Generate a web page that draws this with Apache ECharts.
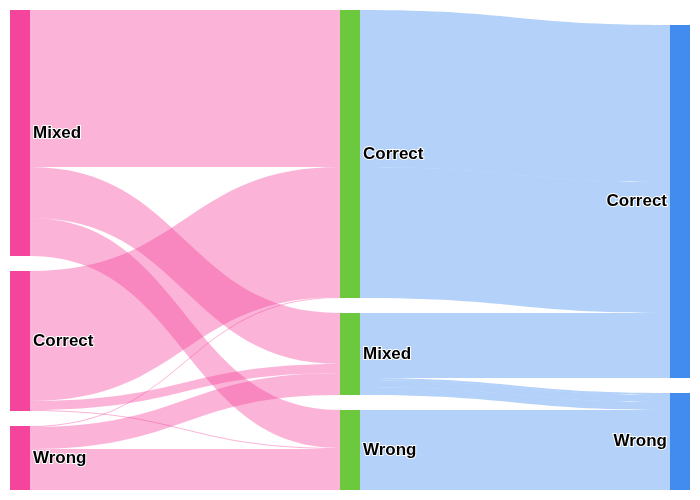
<!DOCTYPE html>
<html>
<head>
<meta charset="utf-8">
<script src="https://cdn.jsdelivr.net/npm/echarts@6/dist/echarts.min.js"></script>
<style>
  html, body { margin: 0; padding: 0; background: #fff; }
  #main { width: 700px; height: 500px; }
</style>
</head>
<body>
<div id="main"></div>
<script>
var chart = echarts.init(document.getElementById('main'));

// columns of the flow (round 1 -> round 2 -> round 3)
var round1 = ['Mixed', 'Correct', 'Wrong'];
var round2 = ['Correct', 'Mixed', 'Wrong'];
var round3 = ['Correct', 'Wrong'];

// [from, to, value]
var links12 = [
  ['Mixed', 'Correct', 157], ['Mixed', 'Mixed', 51], ['Mixed', 'Wrong', 38],
  ['Correct', 'Correct', 130], ['Correct', 'Mixed', 9], ['Correct', 'Wrong', 1],
  ['Wrong', 'Correct', 1], ['Wrong', 'Mixed', 22], ['Wrong', 'Wrong', 41]
];
var links23 = [
  ['Correct', 'Correct', 157], ['Correct', 'Correct', 131],
  ['Mixed', 'Correct', 62], ['Mixed', 'Correct', 3],
  ['Mixed', 'Wrong', 2], ['Mixed', 'Wrong', 7], ['Mixed', 'Wrong', 8],
  ['Wrong', 'Wrong', 80]
];

var pink = '#f5449b', green = '#6cc83c', blue = '#428cf0';

var nodes = [];
round1.forEach(function (n) {
  nodes.push({ name: n + ' #1', itemStyle: { color: pink }, label: { position: 'right' } });
});
round2.forEach(function (n) {
  nodes.push({ name: n + ' #2', itemStyle: { color: green }, label: { position: 'right' } });
});
round3.forEach(function (n) {
  nodes.push({ name: n + ' #3', itemStyle: { color: blue }, label: { position: 'left' } });
});

var links = [];
links12.forEach(function (l) {
  links.push({ source: l[0] + ' #1', target: l[1] + ' #2', value: l[2], lineStyle: { color: pink } });
});
links23.forEach(function (l) {
  links.push({ source: l[0] + ' #2', target: l[1] + ' #3', value: l[2], lineStyle: { color: blue } });
});

var option = {
  animation: false,
  series: [{
    type: 'sankey',
    left: 10,
    right: 10,
    top: 10,
    bottom: 10,
    nodeWidth: 20,
    nodeGap: 15,
    draggable: false,
    data: nodes,
    links: links,
    label: {
      color: '#000',
      fontSize: 17,
      fontWeight: 'bold',
      distance: 3,
      fontFamily: 'Liberation Sans, Arial, sans-serif',
      textBorderColor: '#fff',
      textBorderWidth: 2,
      formatter: function (p) { return p.name.split(' ')[0]; }
    },
    lineStyle: {
      opacity: 0.4,
      curveness: 0.5
    },
    emphasis: { focus: 'none' }
  }]
};

chart.setOption(option);
</script>
</body>
</html>
